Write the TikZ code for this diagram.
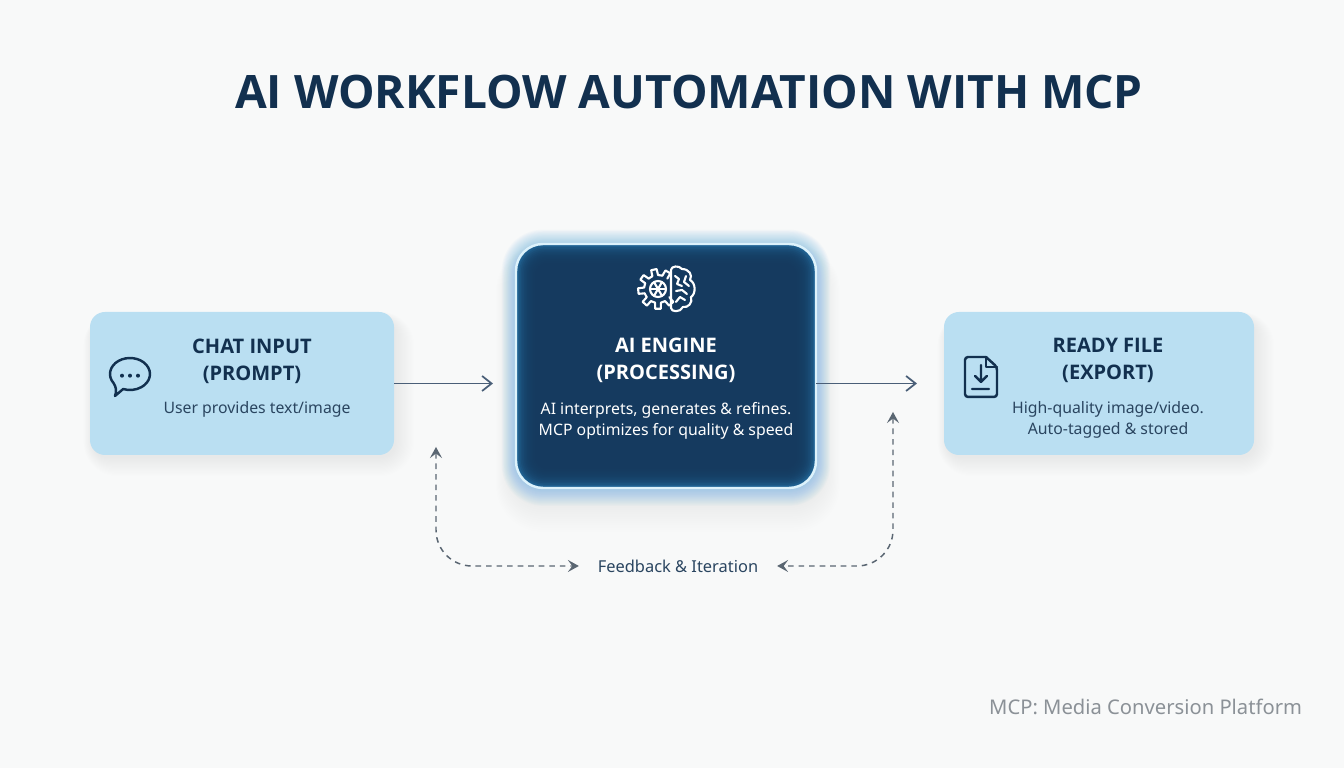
\documentclass[tikz,border=0pt]{standalone}
\usepackage{fontspec}
\usepackage{xcolor}
\setmainfont{Noto Sans}
\newfontfamily\headfont{Open Sans}
\usetikzlibrary{positioning,arrows.meta,calc,backgrounds}
\definecolor{pagegray}{HTML}{F8F9F9}
\definecolor{softblue}{HTML}{BADFF2}
\definecolor{navyink}{HTML}{12304F}
\definecolor{bodyink}{HTML}{2A4560}
\definecolor{enginedark}{HTML}{153A5F}
\definecolor{engineedge}{HTML}{236A9C}
\definecolor{engineline}{HTML}{DDF2FB}
\definecolor{glowblue}{HTML}{5FB0E8}
\definecolor{flowline}{HTML}{4A5F78}
\definecolor{loopline}{HTML}{5A6672}
\definecolor{notegray}{HTML}{8B9197}

\begin{document}
\begin{tikzpicture}[node distance=0.47cm and 0.47cm,
  every node/.style={outer sep=0pt},
  sidebox/.style={rounded corners=0.15cm,fill=softblue},
  headtext/.style={font=\headfont\fontsize{5.7}{7.6}\selectfont\bfseries,text=navyink,align=center,inner sep=0pt},
  desctext/.style={font=\fontsize{4.5}{6}\selectfont,text=bodyink,align=center,inner sep=0pt},
  flowarrow/.style={-{Straight Barb[length=0.95mm,width=1.5mm]},line width=0.5pt,color=flowline},
  looparrow/.style={{Stealth[length=1.1mm,width=1.2mm,inset=0.45mm]}-{Stealth[length=1.1mm,width=1.2mm,inset=0.45mm]},line width=0.42pt,color=loopline,dash pattern=on 1.6pt off 1.4pt,rounded corners=0.36cm},
  iconline/.style={line width=0.7pt,line cap=round,line join=round}]
\useasboundingbox (0,0) rectangle (13.44,7.68);
\node[font=\headfont\fontsize{13.1}{18}\selectfont\bfseries,text=navyink,inner sep=0pt] (title) at (6.89,6.76) {AI WORKFLOW AUTOMATION WITH MCP};
\node[draw=engineline,line width=0.7pt,rounded corners=0.27cm,minimum width=3cm,minimum height=2.44cm] (engine) at (6.66,4.02) {};
\node[sidebox,left=1.22cm of engine,yshift=-0.175cm,minimum width=3.04cm,minimum height=1.43cm] (chat) {};
\node[sidebox,right=1.28cm of engine,yshift=-0.175cm,minimum width=3.1cm,minimum height=1.43cm] (ready) {};

\begin{scope}[on background layer]
\fill[pagegray] (0,0) rectangle (13.44,7.68);
\foreach \nd in {chat,ready}{
  \foreach \i in {1,...,16}{
    \pgfmathsetmacro{\rad}{0.15+0.012*\i}
    \fill[black,opacity=0.005,rounded corners=\rad cm] ($(\nd.south west)+(-0.006*\i+0.03,-0.012*\i-0.02)$) rectangle ($(\nd.north east)+(0.012*\i+0.01,0.004*\i-0.06)$);
  }
}
\foreach \i in {1,...,20}{
  \pgfmathsetmacro{\rad}{0.27+0.01*\i}
  \fill[black,opacity=0.004,rounded corners=\rad cm] ($(engine.south west)+(-0.01*\i,-0.022*\i)$) rectangle ($(engine.north east)+(0.012*\i,0.006*\i-0.12)$);
}
\foreach \i in {1,...,18}{
  \pgfmathsetmacro{\rad}{0.27+0.008*\i}
  \fill[glowblue,opacity=0.03,rounded corners=\rad cm] ($(engine.south west)+(-0.008*\i,-0.01*\i)$) rectangle ($(engine.north east)+(0.008*\i,0.008*\i)$);
}
\fill[engineedge,rounded corners=0.27cm] (engine.south west) rectangle (engine.north east);
\foreach \i in {1,...,14}{
  \pgfmathsetmacro{\rad}{max(0.27-0.012*\i,0.08)}
  \fill[enginedark,opacity=0.24,rounded corners=\rad cm] ($(engine.south west)+(0.016*\i,0.016*\i)$) rectangle ($(engine.north east)-(0.016*\i,0.016*\i)$);
}
\end{scope}

\node[headtext] (chathead) at ($(chat.center)+(0.1,0.225)$) {CHAT INPUT\\(PROMPT)};
\node[desctext,below=0.185cm of chathead,xshift=0.05cm] (chatdesc) {User provides text/image};
\node[headtext,text=white] (enginehead) at ($(engine.center)+(0,0.06)$) {AI ENGINE\\(PROCESSING)};
\node[desctext,text=white,below=0.205cm of enginehead] (enginedesc) {AI interprets, generates \& refines.\\MCP optimizes for quality \& speed};
\node[headtext] (readyhead) at ($(ready.center)+(0.09,0.23)$) {READY FILE\\(EXPORT)};
\node[desctext,below=0.185cm of readyhead] (readydesc) {High-quality image/video.\\Auto-tagged \& stored};
\node[font=\fontsize{4.67}{6}\selectfont,text=bodyink,inner xsep=0.19cm,inner ysep=0pt] (feedback) at (6.78,2.02) {Feedback \& Iteration};
\node[font=\fontsize{5.75}{7}\selectfont,text=notegray,anchor=east,inner sep=0pt] (note) at (13.02,0.61) {MCP: Media Conversion Platform};

\coordinate (loopleft) at (4.36,3.21);
\coordinate (loopright) at (8.93,3.56);
\coordinate (chaticon) at (1.3,3.94);
\coordinate (brainicon) at (6.69,4.79);
\coordinate (fileicon) at (9.81,3.91);

\draw[flowarrow,shorten >=0.23cm] (chat.east) -- (chat.east -| engine.west);
\draw[flowarrow,shorten >=0.27cm] (engine.east |- ready.west) -- (ready.west);
\draw[looparrow] (loopleft) |- (feedback.west);
\draw[looparrow] (loopright) |- (feedback.east);

\begin{scope}[shift={(chaticon)},x=0.01cm,y=0.01cm,iconline,color=navyink]
\draw (-16.4,-9.2) arc[start angle=215,end angle=-110,x radius=20,y radius=16] -- (-15,-22) .. controls (-13,-17) and (-14,-13) .. cycle;
\foreach \dx in {-8,0,8}{\fill (\dx,-1.7) circle (2);}
\end{scope}

\begin{scope}[shift={(brainicon)},x=0.01cm,y=0.01cm,iconline,line width=0.6pt,color=white]
\draw (2,-19) -- (2,19) .. controls (2,23) and (10,24) .. (13,20) .. controls (20,20) and (24,14) .. (21,9) .. controls (27,6) and (27,-5) .. (22,-8) .. controls (24,-14) and (19,-19) .. (14,-18) .. controls (11,-24) and (2,-23) .. (2,-19) -- cycle;
\draw (6,13) -- (10,10) -- (8,5) -- (13,3) (17,13) -- (15,7) -- (20,3) (7,-2) -- (13,-1) -- (18,-5) (7,-13) -- (11,-8) -- (16,-11);
\foreach \a in {60,102,144,186,228,270,312}{
  \draw ($(-11,0)+(\a-12:14)$) -- ($(-11,0)+(\a-8:20)$) -- ($(-11,0)+(\a+8:20)$) -- ($(-11,0)+(\a+12:14)$);
}
\foreach \a in {72,114,156,198,240,282}{
  \draw ($(-11,0)+(\a+0:14)$) -- ($(-11,0)+(\a+18:14)$);
}
\draw (-11,0) circle (8);
\foreach \a in {0,60,120}{\draw (-11,0) ++(\a:8) -- ++(\a+180:16);}
\end{scope}

\begin{scope}[shift={(fileicon)},x=0.01cm,y=0.01cm,iconline,color=navyink]
\draw[rounded corners=0.03cm] (5,20) -- (-16,20) -- (-16,-20) -- (16,-20) -- (16,10) -- (5,20);
\draw (5,20) -- (5,10) -- (16,10);
\draw (0,12) -- (0,-5) (-6,1) -- (0,-5) -- (6,1) (-9,-12) -- (8,-12);
\end{scope}
\end{tikzpicture}
\end{document}
